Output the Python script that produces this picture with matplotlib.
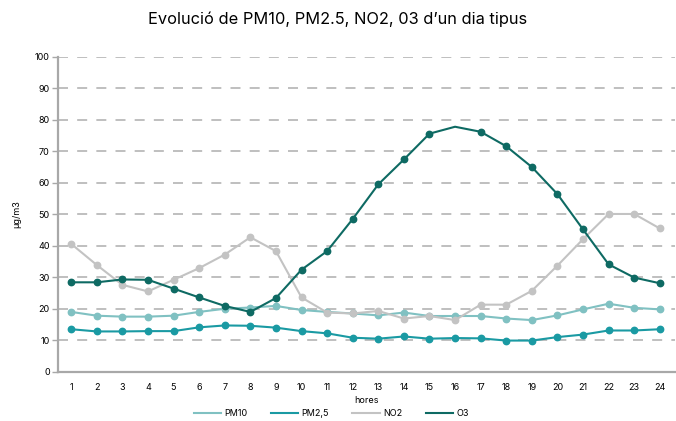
import numpy as np
import matplotlib
matplotlib.use("Agg")
import matplotlib.pyplot as plt

plt.rcParams['font.family'] = ['Inter', 'DejaVu Sans']

hours = list(range(1, 25))
pm10 = [19.0, 17.8, 17.5, 17.5, 17.8, 19.0, 20.0, 20.4, 20.9, 19.6, 19.0, 18.5,
        17.9, 18.8, 17.7, 17.7, 17.7, 16.9, 16.4, 17.9, 19.8, 21.6, 20.3, 19.8]
pm25 = [13.5, 12.8, 12.8, 12.9, 12.9, 14.1, 14.7, 14.6, 14.0, 12.9, 12.2, 10.8,
        10.5, 11.2, 10.5, 10.7, 10.6, 9.9, 9.9, 11.0, 11.8, 13.1, 13.1, 13.5]
no2 = [40.6, 33.9, 27.6, 25.5, 29.2, 32.9, 37.2, 42.7, 38.3, 23.6, 18.8, 18.5,
       19.3, 16.9, 17.7, 16.4, 21.3, 21.3, 25.7, 33.7, 42.1, 50.1, 50.1, 45.5]
o3 = [28.4, 28.4, 29.3, 29.2, 26.4, 23.6, 20.9, 19.0, 23.4, 32.4, 38.3, 48.5,
      59.5, 67.4, 75.6, 77.8, 76.2, 71.6, 65.0, 56.4, 45.2, 34.1, 29.9, 28.1]

series = [
    ("PM10", pm10, "#80c1c2"),
    ("PM2,5", pm25, "#1a9aa3"),
    ("NO2", no2, "#c3c3c3"),
    ("O3", o3, "#0e6a63"),
]

fig = plt.figure(figsize=(6.76, 4.21), dpi=100)
ax = fig.add_axes([0.086, 0.117, 0.912, 0.748])

for name, vals, col in series:
    # the O3 peak at hour 16 has no marker in the original
    mk = [i for i in range(len(vals)) if not (name == "O3" and i == 15)]
    ax.plot(hours, vals, color=col, lw=1.5, marker='o', markersize=4.6,
            markevery=mk, label=name, zorder=3)

ax.set_ylim(0, 100)
ax.set_xlim(0.49, 24.58)
ax.set_yticks(range(0, 101, 10))
ax.set_xticks(hours)
ax.yaxis.grid(True, color="#b4b4b4", lw=1.2, linestyle=(0, (6, 5.5)))
ax.set_axisbelow(True)

for s in ['top', 'right']:
    ax.spines[s].set_visible(False)
for s in ['left', 'bottom']:
    ax.spines[s].set_color("#a8a8a8")
    ax.spines[s].set_linewidth(1.6)

ax.tick_params(axis='y', length=4, width=1, color="#a8a8a8", labelsize=6.5, pad=2)
ax.tick_params(axis='x', length=0, labelsize=6.5, pad=8)

ax.set_xlabel("hores", fontsize=6.5, labelpad=3)
ax.set_ylabel("µg/m3", fontsize=6.5, labelpad=10)

fig.suptitle("Evolució de PM10, PM2.5, NO2, 03 d\u2019un dia tipus", fontsize=11.8, y=0.973)

leg = fig.legend(loc='lower center', bbox_to_anchor=(0.49, -0.012), ncol=4, frameon=False,
                 fontsize=6.5, handlelength=3.0, handletextpad=0.4, columnspacing=2.6)
for h in leg.legend_handles:
    h.set_marker('')

fig.savefig("out.png", dpi=100)
